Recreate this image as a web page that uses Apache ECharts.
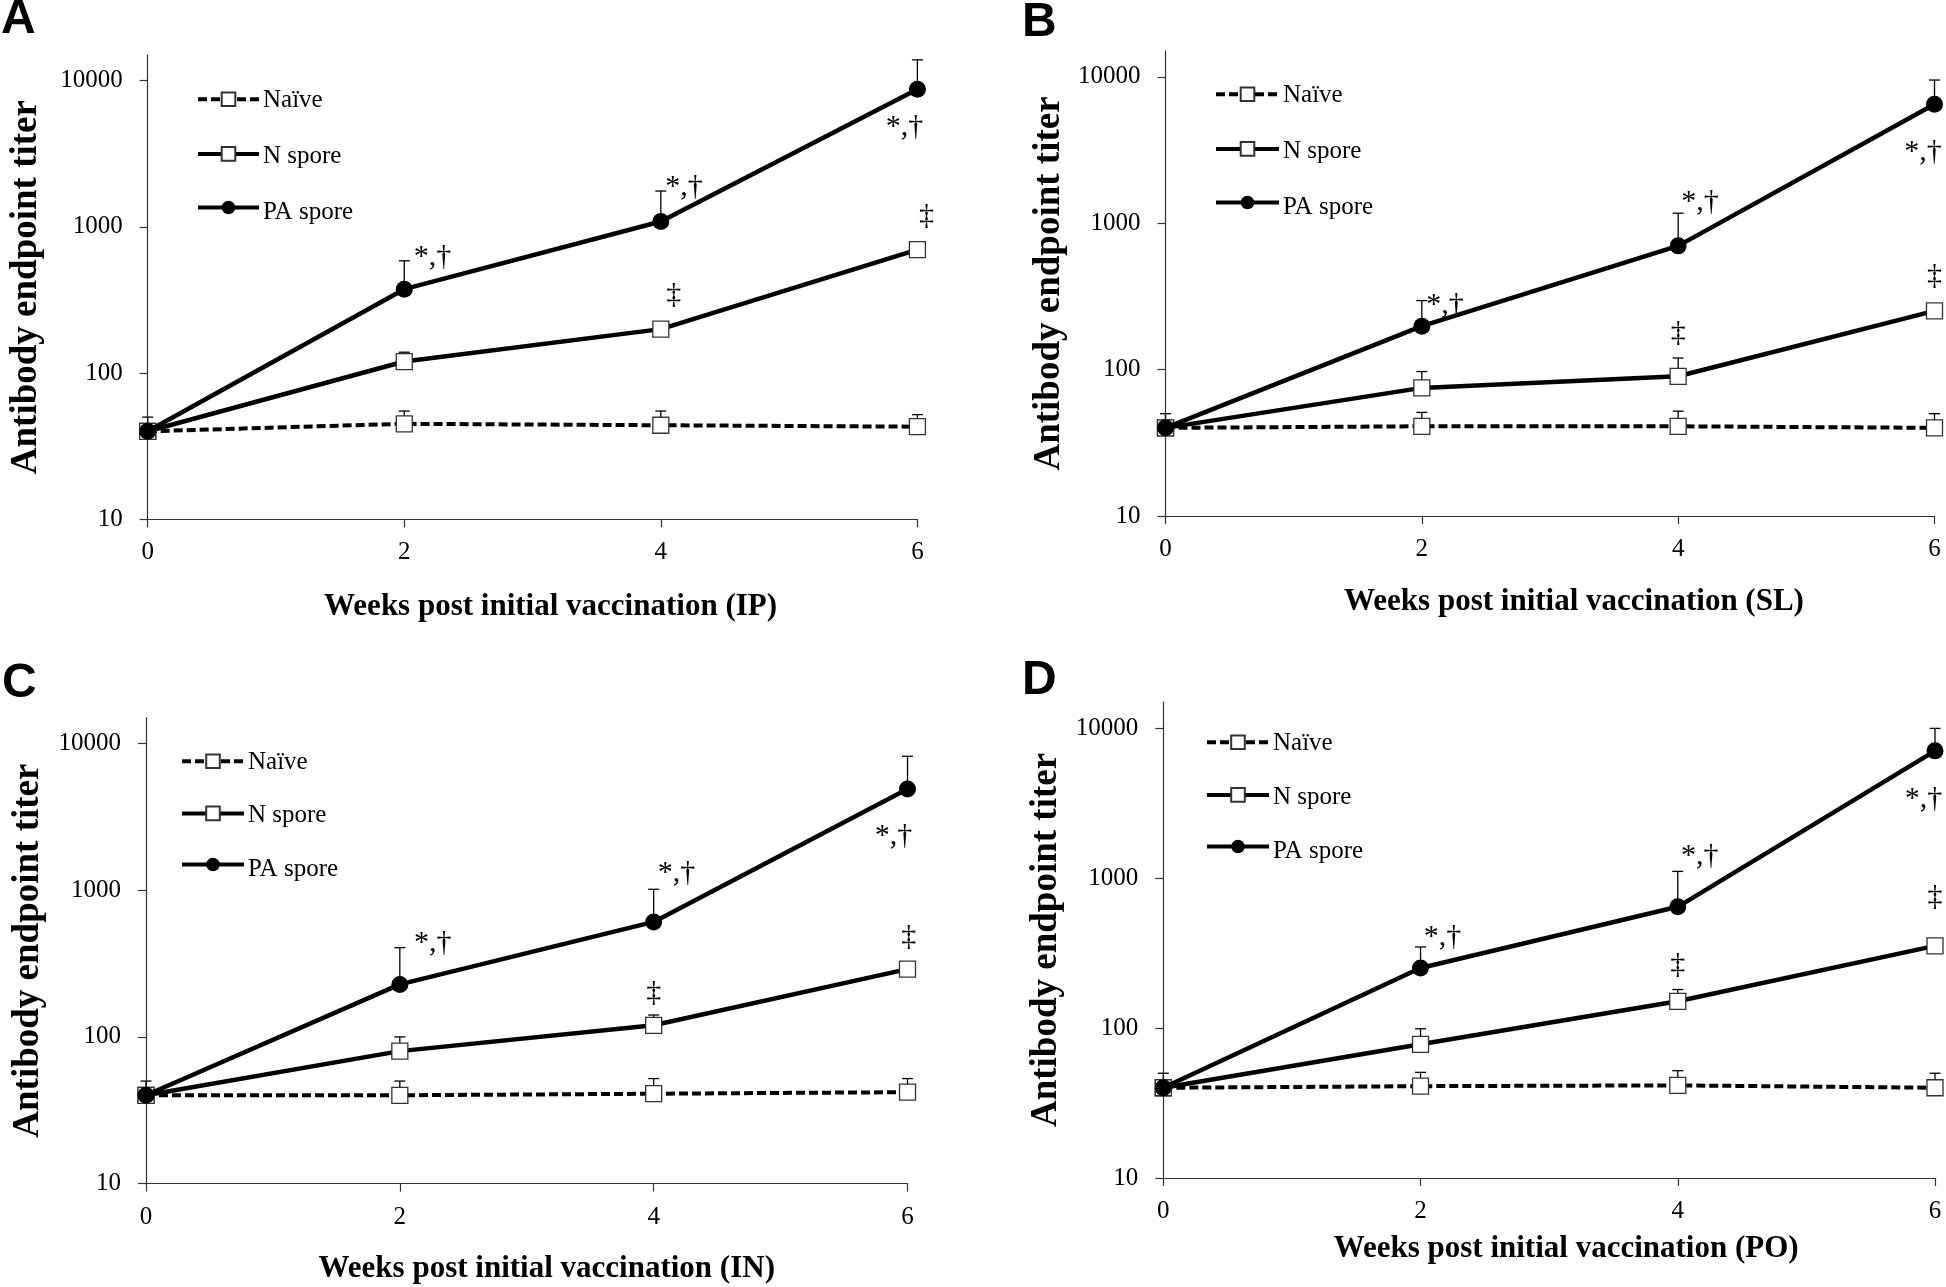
<!DOCTYPE html>
<html>
<head>
<meta charset="utf-8">
<script src="https://cdn.jsdelivr.net/npm/echarts@6/dist/echarts.min.js"></script>
<style>
html,body{margin:0;padding:0;background:#fff;}
#chart{width:1946px;height:1287px;}
</style>
</head>
<body>
<div id="chart"></div>
<script>
// ---------- data ----------
const weeks = [0, 2, 4, 6];
const yTicks = [10, 100, 1000, 10000];
const seriesNames = ['Naïve', 'N spore', 'PA spore'];
const panelLetters = ['A', 'B', 'C', 'D'];
const xTitles = [
  'Weeks post initial vaccination (IP)',
  'Weeks post initial vaccination (SL)',
  'Weeks post initial vaccination (IN)',
  'Weeks post initial vaccination (PO)'
];
const yTitle = 'Antibody endpoint titer';

// Panel A (IP)
const naiveA = [40, 45, 44, 43];
const naiveErrA = [50, 55, 55, 52];
const nSporeA = [40, 120, 200, 700];
const nSporeErrA = [null, 139, null, null];
const paSporeA = [40, 375, 1090, 8750];
const paSporeErrA = [null, 586, 1760, 13900];

// Panel B (SL)
const naiveB = [40, 41, 41, 40];
const naiveErrB = [50, 51, 52, 50];
const nSporeB = [40, 75, 90, 252];
const nSporeErrB = [null, 97, 120, null];
const paSporeB = [40, 198, 700, 6500];
const paSporeErrB = [null, 296, 1170, 9500];

// Panel C (IN)
const naiveC = [40, 40, 41, 42];
const naiveErrC = [50, 50, 52, 52];
const nSporeC = [40, 80, 120, 290];
const nSporeErrC = [null, 100, 141, null];
const paSporeC = [40, 228, 608, 4900];
const paSporeErrC = [null, 406, 1015, 8190];

// Panel D (PO)
const naiveD = [40, 41, 41.5, 40];
const naiveErrD = [50, 50.7, 52, 50];
const nSporeD = [40, 78, 151, 354];
const nSporeErrD = [null, 99, 181, null];
const paSporeD = [40, 252, 645, 7080];
const paSporeErrD = [null, 348, 1111, 10000];

// significance annotations: [week position, titer position, text]
const annotA = [[2.22, 622, '*,†'], [4.18, 1875, '*,†'], [5.90, 4820, '*,†'], [4.10, 342, '‡'], [6.07, 1190, '‡']];
const annotB = [[2.18, 276, '*,†'], [4.17, 1393, '*,†'], [5.91, 3063, '*,†'], [4.00, 177, '‡'], [6.00, 435, '‡']];
const annotC = [[2.26, 437, '*,†'], [4.18, 1309, '*,†'], [5.89, 2339, '*,†'], [4.00, 199, '‡'], [6.01, 480, '‡']];
const annotD = [[2.17, 405, '*,†'], [4.17, 1406, '*,†'], [5.91, 3373, '*,†'], [4.00, 264, '‡'], [6.00, 750, '‡']];

const panels = [
  {naive: naiveA, naiveErr: naiveErrA, n: nSporeA, nErr: nSporeErrA, pa: paSporeA, paErr: paSporeErrA, annot: annotA},
  {naive: naiveB, naiveErr: naiveErrB, n: nSporeB, nErr: nSporeErrB, pa: paSporeB, paErr: paSporeErrB, annot: annotB},
  {naive: naiveC, naiveErr: naiveErrC, n: nSporeC, nErr: nSporeErrC, pa: paSporeC, paErr: paSporeErrC, annot: annotC},
  {naive: naiveD, naiveErr: naiveErrD, n: nSporeD, nErr: nSporeErrD, pa: paSporeD, paErr: paSporeErrD, annot: annotD}
];

// ---------- layout ----------
const layout = [
  {grid: {left: 147.7, top: 55, width: 769.7, height: 464.3}, legend: {left: 196, rows: [100, 156, 212], w: 61},
   yGap: 103, xGap: 72, xShift: 18, letter: [1, 20]},
  {grid: {left: 1165.5, top: 51, width: 769, height: 465}, legend: {left: 1214, rows: [95, 151, 207], w: 63},
   yGap: 98, xGap: 70, xShift: 24, letter: [1022, 22.5]},
  {grid: {left: 146, top: 717.7, width: 761.5, height: 465.9}, legend: {left: 180, rows: [762, 815.5, 869], w: 62},
   yGap: 99, xGap: 70, xShift: 20, letter: [2, 684]},
  {grid: {left: 1163.3, top: 702, width: 771.7, height: 476}, legend: {left: 1205, rows: [743, 797, 851], w: 62},
   yGap: 98, xGap: 55, xShift: 17, letter: [1022, 680.5]}
];

const SERIF = 'Liberation Serif';
const AXIS_COLOR = '#333';
const ICON_H = 17;

function pairs(vals) { return weeks.map((w, i) => [w, vals[i]]); }
function errData(vals, tops) {
  return weeks.map((w, i) => tops[i] != null ? [w, vals[i], tops[i]] : null).filter(Boolean);
}
function renderErr(params, api) {
  const x = api.value(0), v = api.value(1), t = api.value(2);
  const p0 = api.coord([x, v]);
  const p1 = api.coord([x, t]);
  const hw = 5.5;
  const st = {stroke: '#000', lineWidth: 1.3, fill: null};
  return {type: 'group', children: [
    {type: 'line', shape: {x1: p0[0], y1: p0[1], x2: p1[0], y2: p1[1]}, style: st},
    {type: 'line', shape: {x1: p1[0] - hw, y1: p1[1], x2: p1[0] + hw, y2: p1[1]}, style: st}
  ]};
}

const grids = [], xAxes = [], yAxes = [], series = [], legends = [], graphics = [];

panels.forEach((p, k) => {
  const L = layout[k];
  grids.push(Object.assign({containLabel: false}, L.grid));
  xAxes.push({
    type: 'value', gridIndex: k, min: 0, max: 6, interval: 2,
    axisLine: {show: true, onZero: false, lineStyle: {color: AXIS_COLOR, width: 1.2}},
    axisTick: {show: true, length: 8, lineStyle: {color: AXIS_COLOR, width: 1.2}},
    axisLabel: {show: true, margin: 21, fontFamily: SERIF, fontSize: 25, color: '#000'},
    splitLine: {show: false},
    name: xTitles[k], nameLocation: 'middle', nameGap: L.xGap,
    nameTextStyle: {fontFamily: SERIF, fontWeight: 'bold', fontSize: 31, color: '#000',
      padding: [0, 0, 0, 2 * L.xShift]}
  });
  yAxes.push({
    type: 'log', logBase: 10, gridIndex: k, min: 10, max: 15000,
    axisLine: {show: true, onZero: false, lineStyle: {color: AXIS_COLOR, width: 1.2}},
    axisTick: {show: true, length: 8, customValues: yTicks, lineStyle: {color: AXIS_COLOR, width: 1.2}},
    axisLabel: {show: true, margin: 25, customValues: yTicks, fontFamily: SERIF, fontSize: 25, color: '#000',
      formatter: v => (yTicks.indexOf(Math.round(v)) >= 0 ? String(Math.round(v)) : '')},
    minorTick: {show: false},
    splitLine: {show: false},
    name: yTitle, nameLocation: 'middle', nameGap: L.yGap,
    nameTextStyle: {fontFamily: SERIF, fontWeight: 'bold', fontSize: 37, color: '#000'}
  });

  // error bars (upper only)
  [[p.naive, p.naiveErr], [p.n, p.nErr], [p.pa, p.paErr]].forEach(([v, e], j) => {
    series.push({
      type: 'custom', name: 'err' + k + j, xAxisIndex: k, yAxisIndex: k, z: 1, silent: true,
      renderItem: renderErr, data: errData(v, e), encode: {x: 0, y: [1, 2]}
    });
  });

  // lines
  series.push({
    type: 'line', name: seriesNames[0], xAxisIndex: k, yAxisIndex: k, z: 3,
    data: pairs(p.naive), symbol: 'rect', symbolSize: 16, showAllSymbol: true,
    lineStyle: {color: '#000', width: 4, type: [9, 4]},
    itemStyle: {color: '#fff', borderColor: '#333', borderWidth: 1.3},
    emphasis: {disabled: true}
  });
  series.push({
    type: 'line', name: seriesNames[1], xAxisIndex: k, yAxisIndex: k, z: 4,
    data: pairs(p.n), symbol: 'rect', symbolSize: 16,
    lineStyle: {color: '#000', width: 4.5},
    itemStyle: {color: '#fff', borderColor: '#333', borderWidth: 1.3},
    emphasis: {disabled: true}
  });
  series.push({
    type: 'line', name: seriesNames[2], xAxisIndex: k, yAxisIndex: k, z: 5,
    data: pairs(p.pa), symbol: 'circle', symbolSize: 17,
    lineStyle: {color: '#000', width: 4.5},
    itemStyle: {color: '#000', borderColor: '#000', borderWidth: 0},
    emphasis: {disabled: true}
  });

  // annotations
  series.push({
    type: 'scatter', name: 'annot' + k, xAxisIndex: k, yAxisIndex: k, z: 6, silent: true, clip: false,
    data: p.annot, symbolSize: 1, itemStyle: {opacity: 0},
    label: {show: true, position: 'inside', formatter: d => d.value[2],
      fontFamily: SERIF, fontSize: 30, color: '#000', opacity: 1},
    emphasis: {disabled: true}
  });

  // legend icons (library legend), labels drawn as serif text next to them
  const rows = L.legend.rows;
  legends.push({
    orient: 'vertical', left: L.legend.left, top: rows[0] - ICON_H / 2, padding: 0,
    itemGap: (rows[2] - rows[0]) / 2 - ICON_H,
    itemWidth: L.legend.w, itemHeight: ICON_H, selectedMode: false,
    lineStyle: {width: 4},
    data: seriesNames,
    formatter: () => '',
    textStyle: {fontSize: 1, lineHeight: 1, padding: 0}
  });
  seriesNames.forEach((nm, j) => {
    graphics.push({
      type: 'text', x: L.legend.left + L.legend.w + 6, y: rows[j],
      style: {text: nm, font: '25px "Liberation Serif", "Times New Roman", serif',
        fill: '#000', textAlign: 'left', textVerticalAlign: 'middle'}
    });
  });

  graphics.push({
    type: 'text', x: L.letter[0], y: L.letter[1],
    style: {text: panelLetters[k], font: 'bold 48px "Liberation Sans", Arial, sans-serif',
      fill: '#000', textAlign: 'left', textVerticalAlign: 'middle'}
  });
});

const chart = echarts.init(document.getElementById('chart'), null, {renderer: 'canvas'});
chart.setOption({
  animation: false,
  backgroundColor: '#fff',
  textStyle: {fontFamily: SERIF},
  grid: grids,
  xAxis: xAxes,
  yAxis: yAxes,
  legend: legends,
  series: series,
  graphic: graphics
});
</script>
</body>
</html>
